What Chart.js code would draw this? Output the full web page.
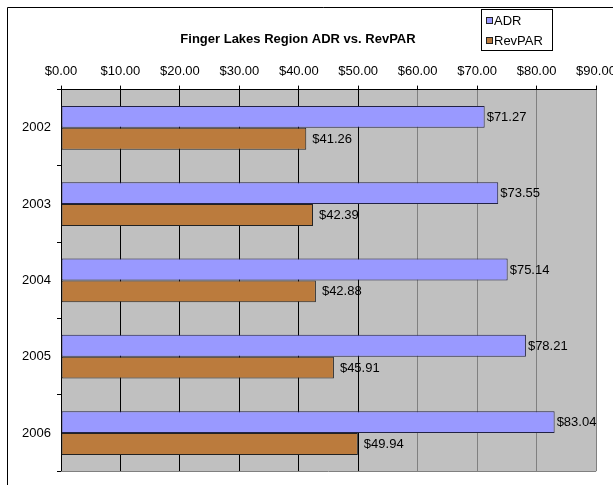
<!DOCTYPE html>
<html>
<head>
<meta charset="utf-8">
<script src="https://cdn.jsdelivr.net/npm/chart.js@4.4.0/dist/chart.umd.min.js"></script>
<style>
  html, body { margin: 0; padding: 0; background: #fff; overflow: hidden; }
  #wrap { width: 613px; height: 485px; overflow: hidden; }
</style>
</head>
<body>
<div id="wrap"><canvas id="grafico" width="640" height="485"></canvas></div>
<script>
// datos
const years = ['2002', '2003', '2004', '2005', '2006'];
const adr = [71.27, 73.55, 75.14, 78.21, 83.04];
const revpar = [41.26, 42.39, 42.88, 45.91, 49.94];
const seriesNames = ['ADR', 'RevPAR'];
const chartTitle = 'Finger Lakes Region ADR vs. RevPAR';

const FONT = '"Liberation Sans", Arial, sans-serif';
const money = v => '$' + Number(v).toFixed(2);

// fondo gris, borde exterior, linea inferior del area
const fondo = {
  id: 'fondo',
  beforeDraw(chart) {
    const { ctx, chartArea: a } = chart;
    ctx.save();
    ctx.fillStyle = '#fff';
    ctx.fillRect(0, 0, chart.width, chart.height);
    ctx.fillStyle = '#C0C0C0';
    ctx.fillRect(a.left, a.top, a.right - a.left, a.bottom - a.top);
    ctx.strokeStyle = '#000';
    ctx.lineWidth = 1;
    ctx.beginPath();
    ctx.moveTo(7.5, chart.height);
    ctx.lineTo(7.5, 7.5);
    ctx.lineTo(chart.width, 7.5);
    ctx.stroke();
    ctx.restore();
  },
  afterDraw(chart) {
    const { ctx, chartArea: a } = chart;
    ctx.save();
    ctx.strokeStyle = '#808080';
    ctx.lineWidth = 1;
    ctx.beginPath();
    ctx.moveTo(a.left, Math.round(a.bottom) + 0.5);
    ctx.lineTo(a.right, Math.round(a.bottom) + 0.5);
    ctx.stroke();

    // leyenda
    const lx = 481.5, ly = 9.5, lw = 71, lh = 41;
    ctx.fillStyle = '#fff';
    ctx.fillRect(lx, ly, lw, lh);
    ctx.strokeStyle = '#000';
    ctx.strokeRect(lx, ly, lw, lh);
    ctx.font = '13px ' + FONT;
    ctx.textBaseline = 'middle';
    ctx.textAlign = 'left';
    chart.data.datasets.forEach((ds, i) => {
      const cy = 20.5 + i * 20;
      ctx.fillStyle = ds.backgroundColor;
      ctx.fillRect(486.5, cy - 3, 6, 6);
      ctx.strokeStyle = '#222';
      ctx.strokeRect(486.5, cy - 3, 6, 6);
      ctx.fillStyle = '#000';
      ctx.fillText(ds.label, 494, cy + 0.5);
    });
    ctx.restore();
  }
};

// etiquetas de valor
const etiquetas = {
  id: 'etiquetas',
  afterDatasetsDraw(chart) {
    const ctx = chart.ctx;
    ctx.save();
    ctx.font = '13px ' + FONT;
    ctx.fillStyle = '#000';
    ctx.textAlign = 'left';
    ctx.textBaseline = 'middle';
    chart.data.datasets.forEach((ds, i) => {
      const off = i === 0 ? 2 : 6;
      chart.getDatasetMeta(i).data.forEach((bar, j) => {
        ctx.fillText(money(ds.data[j]), bar.x + off, bar.y + 0.5);
      });
    });
    ctx.restore();
  }
};

const chart = new Chart(document.getElementById('grafico').getContext('2d'), {
  type: 'bar',
  data: {
    labels: years,
    datasets: [
      {
        label: seriesNames[0],
        data: adr,
        backgroundColor: '#9999FF',
        borderColor: '#222244',
        borderWidth: 1,
        borderSkipped: false
      },
      {
        label: seriesNames[1],
        data: revpar,
        backgroundColor: '#BB7B3D',
        borderColor: '#222',
        borderWidth: 1,
        borderSkipped: false
      }
    ]
  },
  options: {
    indexAxis: 'y',
    responsive: false,
    animation: false,
    layout: { padding: { top: 0, left: 0, right: 44, bottom: 11 } },
    datasets: { bar: { categoryPercentage: 0.573, barPercentage: 1 } },
    plugins: {
      legend: { display: false },
      tooltip: { enabled: false },
      title: {
        display: true,
        text: chartTitle,
        color: '#000',
        font: { family: FONT, size: 13, weight: 'bold' },
        padding: { top: 32, bottom: 12 }
      }
    },
    scales: {
      x: {
        position: 'top',
        min: 0,
        max: 90,
        afterFit: s => { s.height = 30; },
        ticks: {
          stepSize: 10,
          padding: 6,
          color: '#000',
          font: { family: FONT, size: 13 },
          callback: v => money(v)
        },
        grid: {
          color: c => (c.tick && c.tick.value > 50 ? '#808080' : '#000'),
          tickColor: '#000',
          tickLength: 4,
          lineWidth: 1
        },
        border: { display: true, color: '#000' }
      },
      y: {
        afterFit: s => { s.width = 61; },
        ticks: {
          padding: 6,
          color: '#000',
          font: { family: FONT, size: 13 }
        },
        grid: {
          drawOnChartArea: false,
          color: '#000',
          tickLength: 4
        },
        border: { display: true, color: '#000' }
      }
    }
  },
  plugins: [fondo, etiquetas]
});
</script>
</body>
</html>
